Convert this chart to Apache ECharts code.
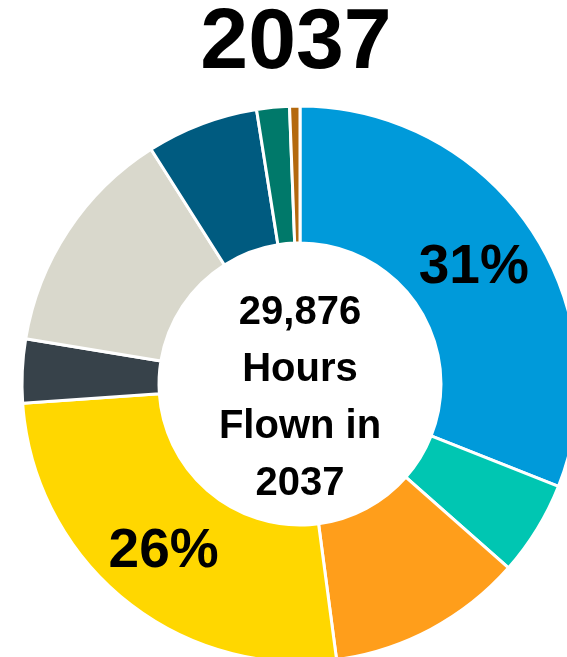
<!DOCTYPE html>
<html>
<head>
<meta charset="utf-8">
<script src="https://cdn.jsdelivr.net/npm/echarts@6/dist/echarts.min.js"></script>
<style>
  html, body { margin: 0; padding: 0; background: #fff; }
  #chart { width: 567px; height: 657px; }
</style>
</head>
<body>
<div id="chart"></div>
<script>
// Share of flight hours by segment (percent), clockwise from 12 o'clock
const categories = ['Segment A', 'Segment B', 'Segment C', 'Segment D', 'Segment E',
                    'Segment F', 'Segment G', 'Segment H', 'Segment I'];
const shares = [31, 5.5, 11.4, 26, 3.7, 13.4, 6.5, 1.9, 0.6];
const colors = ['#009ADA', '#00C6B2', '#FF9E1B', '#FFD700', '#37424A',
                '#D9D8CC', '#005B80', '#00796A', '#B4690E'];
// Only the two largest slices carry a percentage label
const labelled = ['Segment A', 'Segment D'];

const titleText = '2037';
const centerLines = ['29,876', 'Hours', 'Flown in', '2037'];

const FONT = '"Liberation Sans", Arial, sans-serif';

const chart = echarts.init(document.getElementById('chart'), null, { renderer: 'canvas' });

const data = categories.map((name, i) => ({
  name,
  value: shares[i],
  itemStyle: { color: colors[i] },
  label: { show: labelled.includes(name) }
}));

chart.setOption({
  animation: false,
  backgroundColor: '#ffffff',
  graphic: [
    {
      type: 'text',
      x: 296,
      y: 44,
      style: {
        text: titleText,
        textAlign: 'center',
        textVerticalAlign: 'middle',
        font: 'bold 86px ' + FONT,
        fill: '#000'
      }
    },
    {
      type: 'text',
      x: 300,
      y: 398,
      style: {
        text: centerLines.join('\n'),
        textAlign: 'center',
        textVerticalAlign: 'middle',
        font: 'bold 40px ' + FONT,
        lineHeight: 57,
        fill: '#000'
      },
      z: 10
    }
  ],
  series: [{
    type: 'pie',
    center: [300, 384],
    radius: [141, 278],
    startAngle: 90,
    clockwise: true,
    avoidLabelOverlap: false,
    silent: true,
    itemStyle: { borderColor: '#ffffff', borderWidth: 3 },
    label: {
      position: 'inside',
      formatter: p => Math.round(p.percent) + '%',
      fontFamily: FONT,
      fontWeight: 'bold',
      fontSize: 55,
      offset: [-2, 3],
      color: '#000'
    },
    labelLine: { show: false },
    emphasis: { disabled: true },
    data
  }]
});
</script>
</body>
</html>
